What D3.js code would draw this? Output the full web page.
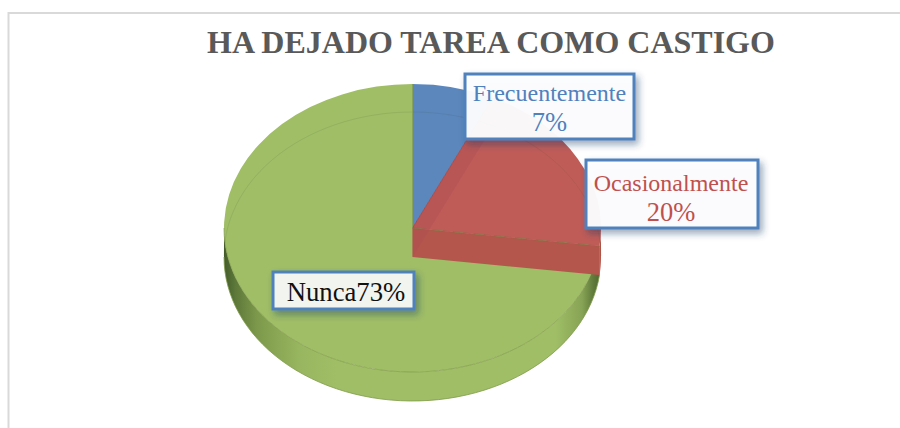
<!DOCTYPE html>
<html><head><meta charset="utf-8">
<script src="https://cdnjs.cloudflare.com/ajax/libs/d3/7.8.5/d3.min.js"></script>
<style>html,body{margin:0;padding:0;background:#fff}svg{display:block}text{font-family:"Liberation Serif",serif}</style>
</head><body><div id="c"></div>
<script>
const title = "HA DEJADO TAREA COMO CASTIGO";
const categories = ["Frecuentemente","Ocasionalmente","Nunca"];
const values = [7,20,73];
const topColors = ["#5b87bd","#c05c58","#9fbe66"];
const labelColors = ["#4f81bd","#c0504d","#111111"];

const W=900,H=428,cx=412.5,cy=228,rx=188.5,ry=144,depth=29;
const svg=d3.select("#c").append("svg").attr("width",W).attr("height",H);
const defs=svg.append("defs");
const grad=defs.append("linearGradient").attr("id","side").attr("gradientUnits","userSpaceOnUse")
  .attr("x1",cx-rx).attr("x2",cx+rx).attr("y1",0).attr("y2",0);
[[0,"#445c2c"],[.03,"#5d7839"],[.09,"#7d9a4c"],[.2,"#98b65f"],[.3,"#9fbe66"],[.88,"#9fbe66"],[.95,"#87a355"],[.98,"#5f7a3a"],[1,"#4c6530"]]
  .forEach(s=>grad.append("stop").attr("offset",s[0]).attr("stop-color",s[1]));
const f=defs.append("filter").attr("id","sh").attr("x","-15%").attr("y","-25%").attr("width","130%").attr("height","160%");
f.append("feDropShadow").attr("dx",3).attr("dy",4).attr("stdDeviation",3.5).attr("flood-color","#1f3d66").attr("flood-opacity",.45);

// frame
svg.append("path").attr("d",`M8.5,428V13H900`).attr("fill","none").attr("stroke","#d9d9d9").attr("stroke-width",2);
svg.append("text").attr("x",491).attr("y",53).attr("text-anchor","middle").attr("font-size",32).attr("font-weight","bold").attr("fill","#595959").text(title);

const pie=d3.pie().sort(null)(values);
const px=t=>cx+rx*Math.sin(t), py=t=>cy-ry*Math.cos(t);
const samples=(a,b)=>d3.range(0,61).map(i=>a+(b-a)*i/60);
const rim=d3.line().x(d=>px(d)).y(d=>py(d));

// outer side wall, green then red portion
const sidePath=(a,b)=>{
  const s=samples(a,b);
  const front=s.map(t=>[px(t),py(t)]), back=s.slice().reverse().map(t=>[px(t),py(t)+depth]);
  return d3.line()(front.concat(back))+"Z";
};
const redA=pie[1].endAngle;
svg.append("path").attr("d",sidePath(redA,Math.PI*1.5)).attr("fill","url(#side)");
svg.append("path").attr("d",sidePath(Math.PI/2,redA)).attr("fill","#b5564c");
svg.append("path").attr("d",rim(samples(redA,Math.PI*1.5))).attr("fill","none")
  .attr("transform",`translate(0,${depth})`).attr("stroke","#7f9a48").attr("stroke-width",.8);

// top faces
const arc=d3.arc().innerRadius(0).outerRadius(rx);
const g=svg.append("g").attr("transform",`translate(${cx},${cy}) scale(1,${ry/rx})`);
g.selectAll("path").data(pie).join("path").attr("d",arc).attr("fill",(d,i)=>topColors[i]);
svg.append("path").attr("d",rim(samples(redA,Math.PI*1.5))).attr("fill","none").attr("stroke","#7f9a48").attr("stroke-width",.7);

// faint back edge of the lower ellipse seen through the top
svg.append("path").attr("d",rim(samples(-Math.PI/2,Math.PI/2))).attr("transform",`translate(0,${depth-1})`)
  .attr("fill","none").attr("stroke","#3a4a20").attr("stroke-opacity",.11).attr("stroke-width",1);

// cut walls of the red slice
const wall=t=>d3.line()([[cx,cy],[px(t),py(t)],[px(t),py(t)+depth],[cx,cy+depth]])+"Z";
svg.append("path").attr("d",wall(redA)).attr("fill","#b5564c");
svg.append("path").attr("d",wall(pie[1].startAngle)).attr("fill","#a94a55").attr("fill-opacity",.32);
svg.append("path").attr("d",d3.line()([[cx,cy],[px(redA),py(redA)]])).attr("stroke","#8a6a45").attr("stroke-width",.8);
svg.append("path").attr("d",d3.line()([[cx,cy],[px(pie[1].startAngle),py(pie[1].startAngle)]])).attr("stroke","#a3403c").attr("stroke-width",.8);
svg.append("path").attr("d",d3.line()([[cx,cy],[cx,cy-ry]])).attr("stroke","#7f9a48").attr("stroke-width",.8);

// labels
const boxes=[
 {i:0,x:465,y:74,w:169,h:65,tx:549.5,ys:[101,131],lines:[categories[0],values[0]+"%"],fs:[24,26.5],fill:"#fdfeff"},
 {i:1,x:586,y:160,w:172,h:68,tx:671,ys:[191,221],lines:[categories[1],values[1]+"%"],fs:[24,26.5],fill:"#fdfeff"},
 {i:2,x:273,y:272,w:141,h:37,tx:346,ys:[301],lines:[categories[2]+values[2]+"%"],fs:[26.7],fill:"#f6f8f5"}
];
boxes.forEach(b=>{
  svg.append("rect").attr("x",b.x).attr("y",b.y).attr("width",b.w).attr("height",b.h)
    .attr("fill",b.fill).attr("fill-opacity",.95).attr("stroke","#4f81bd").attr("stroke-width",3).attr("filter","url(#sh)");
  b.lines.forEach((l,k)=>svg.append("text").attr("x",b.tx).attr("y",b.ys[k]).attr("text-anchor","middle")
    .attr("font-size",b.fs[k]).attr("fill",labelColors[b.i]).text(l));
});
</script></body></html>
